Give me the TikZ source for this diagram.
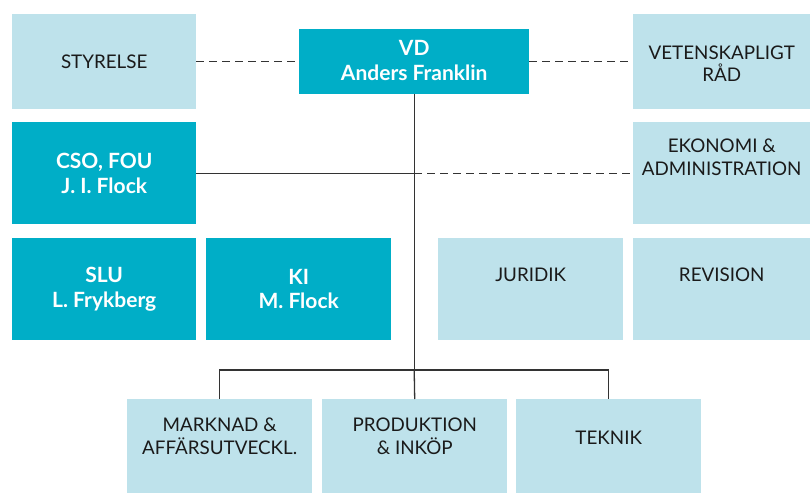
\documentclass[tikz,border=0pt]{standalone}
\usepackage{fontspec}
\setmainfont{Lato}
\definecolor{orgteal}{HTML}{00AEC7}
\definecolor{orglight}{HTML}{BEE2EB}
\definecolor{orgline}{HTML}{333333}
\definecolor{orgtext}{HTML}{1A1A1A}
\begin{document}
\begin{tikzpicture}[x=1pt,y=-1pt,
  boxbase/.style={draw=none, inner sep=0pt, anchor=north west},
  lightbox/.style={boxbase, fill=orglight},
  tealbox/.style={boxbase, fill=orgteal},
  lighttext/.style={inner sep=0pt, align=center, text=orgtext,
    font=\fontsize{18.8}{22.5}\selectfont},
  tealtext/.style={inner sep=0pt, align=center, text=white,
    font=\fontsize{21}{24.5}\selectfont\bfseries},
  conn/.style={draw=orgline, line width=1.3pt},
  dashconn/.style={conn, dash pattern=on 8pt off 5pt}]
  \useasboundingbox (0,0) rectangle (810,494);

  % boxes, top row
  \node[lightbox, minimum width=184pt, minimum height=95pt] (styrelse) at (12,14) {};
  \node[tealbox, minimum width=230pt, minimum height=65pt] (vd) at (299,29) {};
  \node[lightbox, minimum width=177pt, minimum height=95pt] (vet) at (633,14) {};
  % second row
  \node[tealbox, minimum width=184pt, minimum height=102pt] (cso) at (12,122) {};
  \node[lightbox, minimum width=177pt, minimum height=102pt] (eko) at (633,122) {};
  % third row
  \node[tealbox, minimum width=184pt, minimum height=102pt] (slu) at (12,238) {};
  \node[tealbox, minimum width=185pt, minimum height=102pt] (ki) at (206,238) {};
  \node[lightbox, minimum width=185pt, minimum height=102pt] (jur) at (438,238) {};
  \node[lightbox, minimum width=177pt, minimum height=102pt] (rev) at (633,238) {};
  % bottom row
  \node[lightbox, minimum width=185pt, minimum height=94pt] (mark) at (127,399) {};
  \node[lightbox, minimum width=185pt, minimum height=94pt] (prod) at (322,399) {};
  \node[lightbox, minimum width=185pt, minimum height=94pt] (tek) at (516,399) {};

  % labels
  \node[lighttext] (styrelse-t) at (styrelse.center) {STYRELSE};
  \node[tealtext] (vd-t) at ([yshift=1pt]vd.center) {VD\\Anders Franklin};
  \node[lighttext] (vet-t) at ([yshift=-2pt]vet.center) {VETENSKAPLIGT\\RÅD};
  \node[tealtext] (cso-t) at (cso.center) {CSO, FOU\\J. I. Flock};
  \node[lighttext] (eko-t) at ([yshift=16pt]eko.center) {EKONOMI \&\\ADMINISTRATION};
  \node[tealtext] (slu-t) at (slu.center) {SLU\\L. Frykberg};
  \node[tealtext] (ki-t) at (ki.center) {KI\\M. Flock};
  \node[lighttext] (jur-t) at ([yshift=14pt]jur.center) {JURIDIK};
  \node[lighttext] (rev-t) at ([yshift=14pt]rev.center) {REVISION};
  \node[lighttext] (mark-t) at ([yshift=10pt]mark.center) {MARKNAD \&\\AFFÄRSUTVECKL.};
  \node[lighttext] (prod-t) at ([yshift=10pt]prod.center) {PRODUKTION\\\& INKÖP};
  \node[lighttext] (tek-t) at ([yshift=8pt]tek.center) {TEKNIK};

  % connectors
  \coordinate (k) at (vd.south |- cso.east);
  \coordinate (j) at ([yshift=-370pt]vd.south |- 0,0);
  \draw[dashconn] (styrelse.east |- vd.west) -- (vd.west);
  \draw[dashconn] (vd.east) -- (vet.west |- vd.east);
  \draw[conn] (vd.south) -- (j);
  \draw[conn] (cso.east) -- (k);
  \draw[dashconn] (k) -- (eko.west);
  \draw[conn] (mark.north) |- (j) -| (tek.north);
  \draw[conn] (j) -- (prod.north);
\end{tikzpicture}
\end{document}
